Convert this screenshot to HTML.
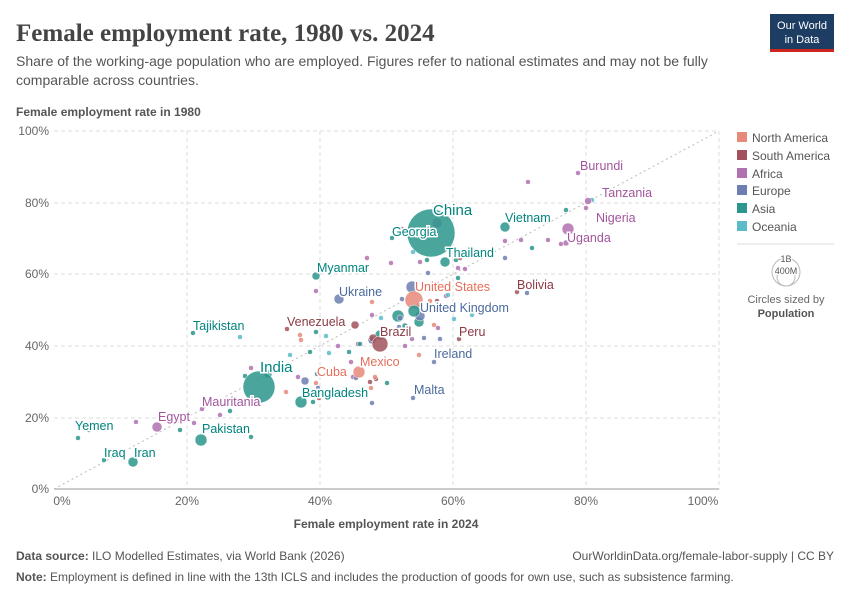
<!DOCTYPE html>
<html><head><meta charset="utf-8"><style>
body{margin:0;background:#fff;font-family:"Liberation Sans",sans-serif;}
svg{display:block}
</style></head><body>
<svg width="850" height="600" xmlns="http://www.w3.org/2000/svg" font-family="Liberation Sans, sans-serif">
<text x="16" y="41" font-family="Liberation Serif, serif" font-size="25" font-weight="bold" fill="#444">Female employment rate, 1980 vs. 2024</text>
<text x="16" y="66" font-size="14" fill="#555">Share of the working-age population who are employed. Figures refer to national estimates and may not be fully</text>
<text x="16" y="85" font-size="14" fill="#555">comparable across countries.</text>
<rect x="770" y="14" width="64" height="36" fill="#1d3d63"/>
<rect x="770" y="49" width="64" height="3" fill="#ce261e"/>
<text x="802" y="29" font-size="11" fill="#fff" text-anchor="middle">Our World</text>
<text x="802" y="43" font-size="11" fill="#fff" text-anchor="middle">in Data</text>
<text x="16" y="116" font-size="12" font-weight="bold" fill="#555">Female employment rate in 1980</text>
<g stroke="#ddd" stroke-dasharray="4,3">
<line x1="54" y1="131" x2="719" y2="131"/><line x1="54" y1="203" x2="719" y2="203"/><line x1="54" y1="274" x2="719" y2="274"/><line x1="54" y1="346" x2="719" y2="346"/><line x1="54" y1="418" x2="719" y2="418"/>
<line x1="187" y1="131" x2="187" y2="489"/><line x1="320" y1="131" x2="320" y2="489"/><line x1="453" y1="131" x2="453" y2="489"/><line x1="586" y1="131" x2="586" y2="489"/><line x1="719" y1="131" x2="719" y2="489"/>
</g>
<line x1="54" y1="489" x2="719" y2="489" stroke="#999"/>
<line x1="54" y1="489" x2="719" y2="131" stroke="#bbb" stroke-dasharray="2,3"/>
<g font-size="12" fill="#666" text-anchor="end">
<text x="49" y="135">100%</text><text x="49" y="207">80%</text><text x="49" y="278">60%</text><text x="49" y="350">40%</text><text x="49" y="422">20%</text><text x="49" y="493">0%</text>
</g>
<g font-size="12" fill="#666" text-anchor="middle">
<text x="62" y="505">0%</text><text x="187" y="505">20%</text><text x="320" y="505">40%</text><text x="453" y="505">60%</text><text x="586" y="505">80%</text><text x="703" y="505">100%</text>
</g>
<text x="386" y="528" font-size="12" font-weight="bold" fill="#555" text-anchor="middle">Female employment rate in 2024</text>
<g fill-opacity="0.85" stroke="#fff" stroke-width="0.5">
<g fill="#b071b0">
<circle cx="528" cy="182" r="2.5"/><circle cx="586" cy="208" r="2.5"/><circle cx="548" cy="240" r="2.5"/><circle cx="521" cy="240" r="2.5"/><circle cx="561" cy="244" r="2.5"/><circle cx="505" cy="241" r="2.5"/><circle cx="367" cy="258" r="2.5"/><circle cx="391" cy="263" r="2.5"/><circle cx="458" cy="268" r="2.5"/><circle cx="465" cy="269" r="2.5"/><circle cx="316" cy="291" r="2.5"/><circle cx="446" cy="296" r="2.5"/><circle cx="372" cy="315" r="2.5"/><circle cx="438" cy="328" r="2.5"/><circle cx="338" cy="346" r="2.5"/><circle cx="358" cy="344" r="2.5"/><circle cx="351" cy="362" r="2.5"/><circle cx="405" cy="346" r="2.5"/><circle cx="251" cy="368" r="2.5"/><circle cx="298" cy="377" r="2.5"/><circle cx="353" cy="377" r="2.5"/><circle cx="202" cy="409" r="2.5"/><circle cx="220" cy="415" r="2.5"/><circle cx="194" cy="423" r="2.5"/><circle cx="136" cy="422" r="2.5"/><circle cx="402" cy="229" r="2.5"/><circle cx="420" cy="262" r="2.5"/><circle cx="412" cy="339" r="2.5"/><circle cx="437" cy="223" r="5"/>
</g>
<g fill="#5bbcc8">
<circle cx="413" cy="252" r="2.5"/><circle cx="240" cy="337" r="2.5"/><circle cx="326" cy="336" r="2.5"/><circle cx="290" cy="355" r="2.5"/><circle cx="329" cy="353" r="2.5"/><circle cx="454" cy="319" r="2.5"/><circle cx="472" cy="315" r="2.5"/><circle cx="381" cy="318" r="2.5"/><circle cx="592" cy="200" r="2.5"/><circle cx="448" cy="295" r="2.5"/>
</g>
<g fill="#2a968c">
<circle cx="193" cy="333" r="2.5"/><circle cx="392" cy="238" r="2.5"/><circle cx="427" cy="260" r="2.5"/><circle cx="456" cy="260" r="2.5"/><circle cx="458" cy="278" r="2.5"/><circle cx="316" cy="332" r="2.5"/><circle cx="310" cy="352" r="2.5"/><circle cx="380" cy="335" r="5"/><circle cx="398" cy="316" r="6"/><circle cx="419" cy="322" r="5"/><circle cx="405" cy="326" r="3"/><circle cx="360" cy="344" r="2.5"/><circle cx="349" cy="352" r="2.5"/><circle cx="387" cy="383" r="2.5"/><circle cx="313" cy="402" r="2.5"/><circle cx="245" cy="376" r="2.5"/><circle cx="268" cy="374" r="4"/><circle cx="230" cy="411" r="2.5"/><circle cx="180" cy="430" r="2.5"/><circle cx="251" cy="437" r="2.5"/><circle cx="89" cy="430" r="2.5"/><circle cx="78" cy="438" r="2.5"/><circle cx="104" cy="460" r="2.5"/><circle cx="532" cy="248" r="2.5"/><circle cx="566" cy="210" r="2.5"/><circle cx="418" cy="307" r="3"/>
</g>
<g fill="#6d7fb0">
<circle cx="505" cy="258" r="2.5"/><circle cx="527" cy="293" r="2.5"/><circle cx="428" cy="273" r="2.5"/><circle cx="402" cy="299" r="2.5"/><circle cx="400" cy="318" r="3"/><circle cx="424" cy="338" r="2.5"/><circle cx="440" cy="339" r="2.5"/><circle cx="434" cy="362" r="2.5"/><circle cx="413" cy="398" r="2.5"/><circle cx="305" cy="381" r="4"/><circle cx="317" cy="374" r="2.5"/><circle cx="318" cy="388" r="2.5"/><circle cx="372" cy="340" r="4"/><circle cx="372" cy="403" r="2.5"/><circle cx="412" cy="287" r="6"/><circle cx="420" cy="316" r="5"/><circle cx="399" cy="327" r="2.5"/><circle cx="356" cy="378" r="2.5"/>
</g>
<g fill="#a2525c">
<circle cx="287" cy="329" r="2.5"/><circle cx="355" cy="325" r="4"/><circle cx="459" cy="339" r="2.5"/><circle cx="517" cy="292" r="2.5"/><circle cx="373" cy="338" r="4"/><circle cx="370" cy="382" r="2.5"/><circle cx="376" cy="379" r="2.5"/><circle cx="460" cy="258" r="2.5"/><circle cx="437" cy="301" r="2.5"/><circle cx="319" cy="398" r="2.5"/></g>
<g fill="#e88a7a">
<circle cx="300" cy="335" r="2.5"/><circle cx="301" cy="340" r="2.5"/><circle cx="372" cy="302" r="2.5"/><circle cx="430" cy="301" r="2.5"/><circle cx="434" cy="325" r="2.5"/><circle cx="419" cy="355" r="2.5"/><circle cx="316" cy="383" r="2.5"/><circle cx="286" cy="392" r="2.5"/><circle cx="375" cy="377" r="2.5"/><circle cx="371" cy="388" r="2.5"/><circle cx="437" cy="352" r="2.5"/></g>
<circle cx="578" cy="173" r="2.5" fill="#b071b0"/>
<circle cx="588" cy="201" r="3.5" fill="#b071b0"/>
<circle cx="568" cy="229" r="6" fill="#b071b0"/>
<circle cx="566" cy="243" r="3" fill="#b071b0"/>
<circle cx="157" cy="427" r="5" fill="#b071b0"/>
<circle cx="505" cy="227" r="5" fill="#2a968c"/>
<circle cx="445" cy="262" r="5" fill="#2a968c"/>
<circle cx="316" cy="276" r="4" fill="#2a968c"/>
<circle cx="339" cy="299" r="5" fill="#6d7fb0"/>
<circle cx="414" cy="300" r="9" fill="#e88a7a"/>
<circle cx="414" cy="311" r="6" fill="#2a968c"/>
<circle cx="380" cy="344" r="8" fill="#a2525c"/>
<circle cx="359" cy="372" r="6" fill="#e88a7a"/>
<circle cx="301" cy="402" r="6" fill="#2a968c"/>
<circle cx="201" cy="440" r="6" fill="#2a968c"/>
<circle cx="133" cy="462" r="5" fill="#2a968c"/>
<circle cx="259" cy="387" r="16" fill="#2a968c"/>
<circle cx="431" cy="233" r="24" fill="#2a968c"/>
</g>
<g font-size="12.5" stroke="#fff" stroke-width="3" paint-order="stroke">
<text x="580" y="170" fill="#a2559c">Burundi</text>
<text x="602" y="197" fill="#a2559c">Tanzania</text>
<text x="596" y="222" fill="#a2559c">Nigeria</text>
<text x="567" y="242" fill="#a2559c">Uganda</text>
<text x="158" y="421" fill="#a2559c">Egypt</text>
<text x="202" y="406" fill="#a2559c">Mauritania</text>
<text x="433" y="215" fill="#00847e" font-size="15">China</text>
<text x="392" y="236" fill="#00847e">Georgia</text>
<text x="505" y="222" fill="#00847e">Vietnam</text>
<text x="446" y="257" fill="#00847e">Thailand</text>
<text x="317" y="272" fill="#00847e">Myanmar</text>
<text x="193" y="330" fill="#00847e">Tajikistan</text>
<text x="260" y="372" fill="#00847e" font-size="15">India</text>
<text x="302" y="397" fill="#00847e">Bangladesh</text>
<text x="202" y="433" fill="#00847e">Pakistan</text>
<text x="75" y="430" fill="#00847e">Yemen</text>
<text x="104" y="457" fill="#00847e">Iraq</text>
<text x="134" y="457" fill="#00847e">Iran</text>
<text x="339" y="296" fill="#4c6a9c">Ukraine</text>
<text x="420" y="312" fill="#4c6a9c">United Kingdom</text>
<text x="434" y="358" fill="#4c6a9c">Ireland</text>
<text x="414" y="394" fill="#4c6a9c">Malta</text>
<text x="415" y="291" fill="#e56e5a">United States</text>
<text x="360" y="366" fill="#e56e5a">Mexico</text>
<text x="317" y="376" fill="#e56e5a">Cuba</text>
<text x="287" y="326" fill="#8c3a44">Venezuela</text>
<text x="380" y="336" fill="#8c3a44">Brazil</text>
<text x="459" y="336" fill="#8c3a44">Peru</text>
<text x="517" y="289" fill="#8c3a44">Bolivia</text>
</g>
<g font-size="12" fill="#555">
<rect x="737" y="132" width="10" height="10" fill="#e88a7a"/><text x="752" y="142">North America</text>
<rect x="737" y="150" width="10" height="10" fill="#a2525c"/><text x="752" y="160">South America</text>
<rect x="737" y="168" width="10" height="10" fill="#b071b0"/><text x="752" y="178">Africa</text>
<rect x="737" y="185" width="10" height="10" fill="#6d7fb0"/><text x="752" y="195">Europe</text>
<rect x="737" y="203" width="10" height="10" fill="#2a968c"/><text x="752" y="213">Asia</text>
<rect x="737" y="221" width="10" height="10" fill="#5bbcc8"/><text x="752" y="231">Oceania</text>
</g>
<line x1="737" y1="244" x2="834" y2="244" stroke="#ddd"/>
<circle cx="786" cy="272" r="14" fill="none" stroke="#bbb"/>
<circle cx="786" cy="277" r="9" fill="none" stroke="#bbb"/>
<text x="786" y="262" font-size="9" fill="#555" text-anchor="middle" stroke="#fff" stroke-width="2" paint-order="stroke">1B</text>
<text x="786" y="274" font-size="9" fill="#555" text-anchor="middle" stroke="#fff" stroke-width="2" paint-order="stroke">400M</text>
<text x="786" y="303" font-size="11" fill="#666" text-anchor="middle">Circles sized by</text>
<text x="786" y="317" font-size="11" font-weight="bold" fill="#555" text-anchor="middle">Population</text>
<text x="16" y="560" font-size="12" fill="#555"><tspan font-weight="bold">Data source:</tspan> ILO Modelled Estimates, via World Bank (2026)</text>
<text x="834" y="560" font-size="12" fill="#555" text-anchor="end">OurWorldinData.org/female-labor-supply | CC BY</text>
<text x="16" y="581" font-size="12" fill="#555"><tspan font-weight="bold">Note:</tspan> Employment is defined in line with the 13th ICLS and includes the production of goods for own use, such as subsistence farming.</text>
</svg>
</body></html>
